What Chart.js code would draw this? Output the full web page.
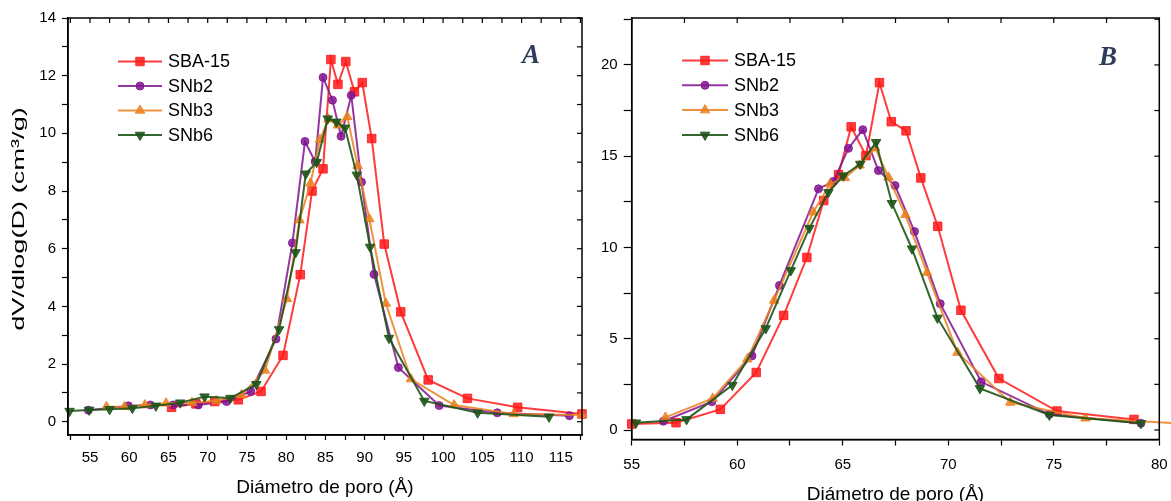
<!DOCTYPE html>
<html>
<head>
<meta charset="utf-8">
<script src="https://cdn.jsdelivr.net/npm/chart.js@4/dist/chart.umd.min.js"></script>
<style>
  body { margin: 0; background: #fff; width: 1171px; height: 501px; overflow: hidden; position: relative; }
  .panel { position: absolute; top: 0; height: 501px; }
  #left { left: 0; width: 595px; }
  #right { left: 595px; width: 576px; }
</style>
</head>
<body>
<div class="panel" id="left"><canvas id="chartA"></canvas></div>
<div class="panel" id="right"><canvas id="chartB"></canvas></div>
<script>
// Series names
const seriesNames = ["SBA-15", "SNb2", "SNb3", "SNb6"];

// Panel A - diametro (Å) y dV/dlog(D)
const aSbaX = [65.4, 68.5, 70.9, 73.9, 76.8, 79.6, 81.8, 83.3, 84.7, 85.7, 86.6, 87.6, 88.7, 89.7, 90.9, 92.5, 94.6, 98.1, 103.1, 109.5, 117.7];
const aSbaY = [0.50, 0.62, 0.70, 0.76, 1.05, 2.30, 5.10, 8.00, 8.77, 12.56, 11.70, 12.49, 11.44, 11.76, 9.82, 6.16, 3.81, 1.45, 0.81, 0.50, 0.27];
const aNb2X = [54.8, 59.9, 62.7, 65.6, 68.8, 72.4, 75.5, 78.7, 80.8, 82.4, 83.7, 84.7, 85.9, 87.0, 88.3, 89.6, 91.2, 94.3, 99.5, 106.9, 116.1];
const aNb2Y = [0.40, 0.55, 0.58, 0.58, 0.58, 0.70, 1.05, 2.87, 6.20, 9.72, 9.02, 11.94, 11.15, 9.90, 11.32, 8.31, 5.11, 1.88, 0.56, 0.31, 0.21];
const aNb3X = [57.1, 59.4, 62.0, 64.7, 68.0, 71.1, 74.3, 77.3, 80.1, 81.7, 83.1, 84.3, 85.4, 86.6, 87.8, 89.1, 90.6, 92.7, 95.9, 101.4, 109.0, 117.7];
const aNb3Y = [0.52, 0.52, 0.58, 0.64, 0.66, 0.73, 0.93, 1.78, 4.26, 6.99, 8.27, 9.78, 10.49, 10.28, 10.57, 8.88, 7.03, 4.10, 1.48, 0.58, 0.27, 0.23];
const aNb6X = [52.4, 54.9, 57.5, 60.4, 63.4, 66.5, 69.6, 72.9, 76.2, 79.1, 81.2, 82.5, 83.9, 85.3, 86.4, 87.5, 89.0, 90.7, 93.1, 97.6, 104.4, 113.5];
const aNb6Y = [0.37, 0.41, 0.43, 0.47, 0.55, 0.66, 0.87, 0.82, 1.30, 3.20, 5.87, 8.60, 9.00, 10.51, 10.40, 10.19, 8.56, 6.06, 2.90, 0.72, 0.31, 0.17];

// Panel B
const bSbaX = [55.0, 57.1, 59.2, 60.9, 62.2, 63.3, 64.1, 64.8, 65.4, 66.1, 66.74, 67.3, 68.0, 68.7, 69.5, 70.6, 72.4, 75.15, 78.8];
const bSbaY = [0.33, 0.40, 1.13, 3.15, 6.28, 9.45, 12.57, 13.99, 16.61, 15.03, 19.03, 16.89, 16.39, 13.81, 11.16, 6.56, 2.82, 1.04, 0.58];
const bNb2X = [56.5, 58.8, 60.7, 62.0, 63.85, 64.56, 65.27, 65.95, 66.69, 67.48, 68.4, 69.62, 71.56, 74.79, 79.13];
const bNb2Y = [0.48, 1.55, 4.06, 7.92, 13.21, 13.62, 15.43, 16.45, 14.21, 13.39, 10.87, 6.92, 2.64, 0.86, 0.37];
const bNb3X = [56.6, 58.84, 60.48, 61.75, 63.6, 64.4, 65.1, 65.8, 66.54, 67.17, 67.97, 68.99, 70.44, 72.94, 76.5, 81.5];
const bNb3Y = [0.69, 1.73, 3.88, 7.10, 11.93, 13.48, 13.81, 14.50, 15.45, 13.84, 11.79, 8.62, 4.24, 1.51, 0.64, 0.33];
const bNb6X = [55.2, 57.6, 59.77, 61.35, 62.54, 63.42, 64.32, 65.03, 65.83, 66.58, 67.33, 68.28, 69.49, 71.5, 74.79, 79.13];
const bNb6Y = [0.40, 0.58, 2.46, 5.56, 8.74, 11.06, 13.02, 13.93, 14.57, 15.76, 12.42, 9.93, 6.14, 2.28, 0.82, 0.37];

// Etiquetas de los ejes
const aXLabels = [55, 60, 65, 70, 75, 80, 85, 90, 95, 100, 105, 110, 115];
const aYLabels = [0, 2, 4, 6, 8, 10, 12, 14];
const bXLabels = [55, 60, 65, 70, 75, 80];
const bYLabels = [0, 5, 10, 15, 20];

const FONT = "'Liberation Sans', Arial, sans-serif";
Chart.defaults.font.family = FONT;
Chart.defaults.color = "#000";

const styles = [
  { color: "rgba(255,25,25,0.85)", pointStyle: "rect", radius: 6, rotation: 0 },
  { color: "rgba(130,20,145,0.85)", pointStyle: "circle", radius: 4, rotation: 0 },
  { color: "rgba(235,128,30,0.85)", pointStyle: "triangle", radius: 5.5, rotation: 0 },
  { color: "rgba(30,85,25,0.9)", pointStyle: "triangle", radius: 5.5, rotation: 180 }
];

function pairs(xs, ys) {
  return xs.map((x, i) => ({ x: x, y: ys[i] }));
}

function makeDatasets(list, xmax) {
  return list.map((d, i) => ({
    label: seriesNames[i],
    data: pairs(d[0], d[1]),
    borderColor: styles[i].color,
    backgroundColor: styles[i].color,
    borderWidth: 2,
    pointStyle: styles[i].pointStyle,
    pointRotation: styles[i].rotation,
    pointRadius: ctx => (ctx.raw && ctx.raw.x > xmax) ? 0 : styles[i].radius,
    pointBorderWidth: 1,
    tension: 0,
    clip: false,
    order: 3 - i
  }));
}

// ticks menores: mitad entre etiquetas
function tickValues(labels, min, max) {
  const step = (labels[1] - labels[0]) / 2;
  const out = [];
  let v = labels[0];
  while (v - step >= min) v -= step;
  for (; v <= max + 1e-9; v += step) out.push(Math.round(v * 100) / 100);
  return out;
}

function axis(labels, min, max, opts) {
  return {
    type: "linear",
    min: min,
    max: max,
    afterBuildTicks: s => { s.ticks = tickValues(labels, min, max).map(v => ({ value: v })); },
    afterFit: opts.fit,
    ticks: {
      autoSkip: false,
      maxRotation: 0,
      padding: opts.padding,
      font: { size: 15 },
      callback: v => labels.includes(v) ? String(v) : ""
    },
    grid: { drawOnChartArea: false, drawTicks: true, tickLength: opts.tickLength, color: "#000", tickWidth: 1.2 },
    border: { color: "#000", width: 1.5 },
    title: opts.title
  };
}

// marco, ticks espejo, leyenda y letra del panel
const decor = {
  id: "decor",
  afterDraw(chart, args, o) {
    const ctx = chart.ctx;
    const a = chart.chartArea;
    ctx.save();
    ctx.strokeStyle = "#000";
    ctx.lineWidth = 1.5;
    ctx.strokeRect(a.left, a.top, a.right - a.left, a.bottom - a.top);
    ctx.lineWidth = 1.2;
    chart.scales.x.ticks.forEach(t => {
      const px = chart.scales.x.getPixelForValue(t.value);
      ctx.beginPath(); ctx.moveTo(px, a.top); ctx.lineTo(px, a.top + 5); ctx.stroke();
    });
    chart.scales.y.ticks.forEach(t => {
      const py = chart.scales.y.getPixelForValue(t.value);
      ctx.beginPath(); ctx.moveTo(a.right, py); ctx.lineTo(a.right - 5, py); ctx.stroke();
    });

    const L = o.legend;
    chart.data.datasets.forEach((ds, i) => {
      const y = L.top + i * L.gap;
      ctx.strokeStyle = ds.borderColor;
      ctx.fillStyle = ds.borderColor;
      ctx.lineWidth = 2;
      ctx.beginPath(); ctx.moveTo(L.x1, y); ctx.lineTo(L.x2, y); ctx.stroke();
      ctx.lineWidth = 1;
      Chart.helpers.drawPoint(ctx, {
        pointStyle: styles[i].pointStyle, rotation: styles[i].rotation,
        radius: styles[i].radius, borderWidth: 1
      }, (L.x1 + L.x2) / 2, y);
      ctx.fillStyle = "#000";
      ctx.font = "18px " + FONT;
      ctx.textBaseline = "middle";
      ctx.textAlign = "left";
      ctx.fillText(ds.label, L.textX, y + 1);
    });

    ctx.fillStyle = "#2e3c5c";
    ctx.font = "italic bold 27px 'Liberation Serif', 'Times New Roman', serif";
    ctx.textAlign = "center";
    ctx.textBaseline = "middle";
    ctx.fillText(o.letter.text, o.letter.x, o.letter.y);

    // titulo Y estirado como en la figura original
    if (o.yTitle) {
      const T = o.yTitle;
      ctx.save();
      ctx.translate(T.x, T.y);
      ctx.rotate(-Math.PI / 2);
      ctx.scale(T.stretch, 1);
      ctx.fillStyle = "#000";
      ctx.font = T.size + "px " + FONT;
      ctx.fillText(T.text, 0, 0);
      ctx.restore();
    }
    ctx.restore();
  }
};

new Chart(document.getElementById("chartA"), {
  type: "line",
  data: {
    datasets: makeDatasets([[aSbaX, aSbaY], [aNb2X, aNb2Y], [aNb3X, aNb3Y], [aNb6X, aNb6Y]], 200)
  },
  options: {
    responsive: true,
    maintainAspectRatio: false,
    animation: false,
    layout: { padding: { left: 0, right: 13, top: 18, bottom: 0 } },
    plugins: {
      legend: { display: false },
      tooltip: { enabled: false },
      decor: {
        legend: { x1: 118, x2: 162, textX: 168, top: 61.5, gap: 24.5 },
        letter: { text: "A", x: 531, y: 56 },
        yTitle: { text: "dV/dlog(D) (cm³/g)", x: 19, y: 219, size: 17, stretch: 1.6 }
      }
    },
    scales: {
      x: axis(aXLabels, 52.2, 117.7, {
        fit: s => { s.height = 66; s.paddingLeft = 0; s.paddingRight = 0; }, padding: 9, tickLength: 5,
        title: { display: true, text: "Diámetro de poro (Å)", font: { size: 19 }, padding: { top: 0, bottom: 2 } }
      }),
      y: axis(aYLabels, -0.46, 14, {
        fit: s => { s.width = 68; }, padding: 6, tickLength: 6, title: { display: false }
      })
    }
  },
  plugins: [decor]
});

new Chart(document.getElementById("chartB"), {
  type: "line",
  data: {
    datasets: makeDatasets([[bSbaX, bSbaY], [bNb2X, bNb2Y], [bNb3X, bNb3Y], [bNb6X, bNb6Y]], 80)
  },
  options: {
    responsive: true,
    maintainAspectRatio: false,
    animation: false,
    layout: { padding: { left: 0, right: 11.7, top: 18, bottom: 0 } },
    plugins: {
      legend: { display: false },
      tooltip: { enabled: false },
      decor: { legend: { x1: 87, x2: 133, textX: 139, top: 60.5, gap: 24.8 }, letter: { text: "B", x: 513, y: 58 } }
    },
    scales: {
      x: axis(bXLabels, 55, 80, {
        fit: s => { s.height = 61.5; s.paddingLeft = 0; s.paddingRight = 0; }, padding: 10, tickLength: 6,
        title: { display: true, text: "Diámetro de poro (Å)", font: { size: 19, lineHeight: 0.85 }, padding: { top: 0, bottom: -1.5 } }
      }),
      y: axis(bYLabels, -0.52, 22.57, {
        fit: s => { s.width = 36.7; }, padding: 6, tickLength: 8, title: { display: false }
      })
    }
  },
  plugins: [decor]
});
</script>
</body>
</html>
